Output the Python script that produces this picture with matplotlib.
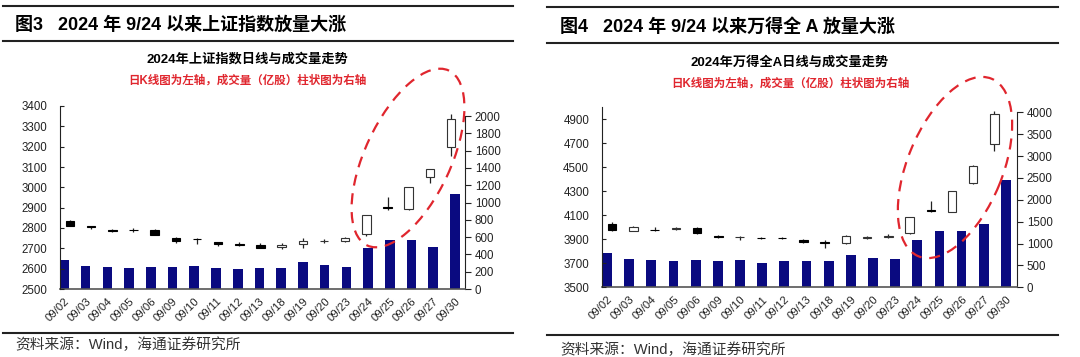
import matplotlib.pyplot as plt
import numpy as np
from matplotlib.patches import Ellipse
from matplotlib.lines import Line2D
from matplotlib.transforms import IdentityTransform

plt.rcParams['font.family'] = ['Liberation Sans', 'Noto Sans CJK SC']

W, H = 1080, 357

dates = ['09/02', '09/03', '09/04', '09/05', '09/06', '09/09', '09/10', '09/11', '09/12', '09/13',
         '09/18', '09/19', '09/20', '09/23', '09/24', '09/25', '09/26', '09/27', '09/30']

# 上证指数 日K
sh_open = [2834, 2808, 2788, 2792, 2790, 2750, 2746, 2731, 2722, 2718,
           2706, 2720, 2735, 2737, 2770, 2901, 2893, 3049, 3197]
sh_high = [2841, 2812, 2796, 2798, 2797, 2755, 2752, 2733, 2730, 2724,
           2725, 2749, 2746, 2755, 2865, 2952, 3001, 3088, 3359]
sh_low = [2808, 2796, 2781, 2780, 2764, 2727, 2722, 2712, 2712, 2700,
          2696, 2700, 2725, 2733, 2760, 2889, 2889, 3021, 3156]
sh_close = [2811, 2803, 2784, 2788, 2766, 2736, 2744, 2722, 2717, 2704,
            2717, 2736, 2737, 2752, 2863, 2896, 3001, 3088, 3336]
# 成交量（亿股）
sh_vol = [337, 270, 255, 244, 251, 259, 263, 240, 236, 247,
          247, 313, 282, 255, 476, 565, 572, 491, 1103]

# 万得全A 日K
wa_open = [4030, 3970, 3978, 3981, 3995, 3923, 3916, 3912, 3910, 3895,
           3873, 3872, 3911, 3915, 3950, 4140, 4130, 4370, 4692]
wa_high = [4040, 4008, 4004, 3998, 4000, 3931, 3930, 3915, 3922, 3899,
           3893, 3937, 3925, 3940, 4088, 4218, 4302, 4520, 4966]
wa_low = [3970, 3966, 3972, 3978, 3946, 3911, 3895, 3903, 3902, 3868,
          3830, 3864, 3905, 3910, 3940, 4128, 4125, 4362, 4634]
wa_close = [3976, 3998, 3975, 3993, 3950, 3918, 3920, 3907, 3906, 3873,
            3868, 3926, 3915, 3930, 4087, 4132, 4300, 4509, 4942]
wa_vol = [773, 651, 628, 590, 620, 590, 613, 560, 590, 605,
          590, 727, 673, 636, 1070, 1295, 1295, 1455, 2455]

NAVY = '#0a0a80'
RED = '#e0262e'
TXT = '#222222'


def frac(x, y):
    return x / W, 1 - y / H


def panel(fig, rect, xlim_k, xlim_v, o, h, l, c, vol, ylim_k, yticks_k, ylim_v, yticks_v):
    ax_v = fig.add_axes(rect)
    ax_k = fig.add_axes(rect)
    ax_k.set_facecolor('none')
    x = np.arange(len(dates))

    # 成交量柱状图（右轴）
    ax_v.bar(x, vol, width=0.44, color=NAVY, zorder=2)
    ax_v.set_xlim(*xlim_v)
    ax_v.set_ylim(*ylim_v)
    ax_v.yaxis.tick_right()
    ax_v.set_yticks(yticks_v)
    ax_v.tick_params(axis='y', direction='out', length=4, width=0.8, labelsize=8.3,
                     colors=TXT, pad=3)
    ax_v.set_xticks(x)
    ax_v.set_xticklabels(dates, rotation=45, ha='right', rotation_mode='anchor')
    ax_v.tick_params(axis='x', length=0, labelsize=8.2, colors=TXT, pad=5)
    for s in ['top', 'left']:
        ax_v.spines[s].set_visible(False)
    ax_v.spines['right'].set_bounds(ylim_v[0], yticks_v[-1])
    ax_v.spines['right'].set_color(TXT)
    ax_v.spines['bottom'].set_color('#555555')
    ax_v.spines['bottom'].set_linewidth(1.2)

    # 日K线（左轴）
    o = np.array(o); c = np.array(c)
    up = c >= o
    ax_k.vlines(x, l, h, color='#222222', linewidth=0.9, zorder=2)
    bottoms = np.minimum(o, c)
    heights = np.maximum(np.abs(c - o), 0.8)
    ax_k.bar(x[up], heights[up], bottom=bottoms[up], width=0.4, color='white',
             edgecolor='#333333', linewidth=0.8, zorder=3)
    ax_k.bar(x[~up], heights[~up], bottom=bottoms[~up], width=0.4, color='black',
             edgecolor='black', linewidth=0.8, zorder=3)
    ax_k.set_xlim(*xlim_k)
    ax_k.set_ylim(*ylim_k)
    ax_k.set_yticks(yticks_k)
    ax_k.tick_params(axis='y', direction='in', length=3, width=0.8, labelsize=8.3,
                     colors=TXT, pad=9)
    ax_k.set_xticks([])
    for s in ['top', 'right', 'bottom']:
        ax_k.spines[s].set_visible(False)
    ax_k.spines['left'].set_color(TXT)
    return ax_k, ax_v


fig = plt.figure(figsize=(W / 100, H / 100), dpi=100)

# 图3 上证指数
panel(fig, [60 / W, 68 / H, 405 / W, 183 / H], (-0.47, 18.66), (-0.18, 18.46),
      sh_open, sh_high, sh_low, sh_close, sh_vol,
      (2500, 3400), np.arange(2500, 3401, 100), (0, 2117), np.arange(0, 2001, 200))

# 图4 万得全A
panel(fig, [601.7 / W, 69.7 / H, 415.3 / W, 180.3 / H], (-0.49, 19.06), (-0.24, 18.5),
      wa_open, wa_high, wa_low, wa_close, wa_vol,
      (3500, 5000), np.arange(3500, 4901, 200), (0, 4120), np.arange(0, 4001, 500))

# 标题、横线与注释
for (x0, x1, ys, hx, hy, title, cx, sub, sy, ry, srcy) in [
    (3, 513, (6, 41, 333), 15, 25, '图3   2024 年 9/24 以来上证指数放量大涨', 247,
     '2024年上证指数日线与成交量走势', 59, 81, 345),
    (547, 1058, (7, 43, 335), 560, 27, '图4   2024 年 9/24 以来万得全 A 放量大涨', 790,
     '2024年万得全A日线与成交量走势', 62, 84, 350),
]:
    for yy in ys:
        fig.add_artist(Line2D([x0 / W, x1 / W], [1 - yy / H, 1 - yy / H],
                              transform=fig.transFigure, color='#222222', linewidth=1.5))
    fig.text(*frac(hx, hy), title, fontsize=13, fontweight='bold', color='black',
             ha='left', va='center')
    fig.text(*frac(cx, sy), sub, fontsize=9.5, fontweight='bold', color='black',
             ha='center', va='center')
    fig.text(*frac(cx, ry), '日K线图为左轴，成交量（亿股）柱状图为右轴', fontsize=8.3,
             fontweight='bold', color=RED, ha='center', va='center')
    fig.text(*frac(15 if x0 < 100 else 560, srcy), '资料来源：Wind，海通证券研究所',
             fontsize=10.6, color='#333333', ha='left', va='center')

# 红色虚线椭圆
for (cx, cy, ew, eh, ang) in [(408, 199, 193, 86, 65), (955, 189.5, 192, 95, 67.6)]:
    fig.add_artist(Ellipse((cx, cy), ew, eh, angle=ang, transform=IdentityTransform(),
                           fill=False, edgecolor=RED, linewidth=1.6,
                           linestyle=(0, (5, 3.5))))

fig.savefig('out.png', dpi=100)
